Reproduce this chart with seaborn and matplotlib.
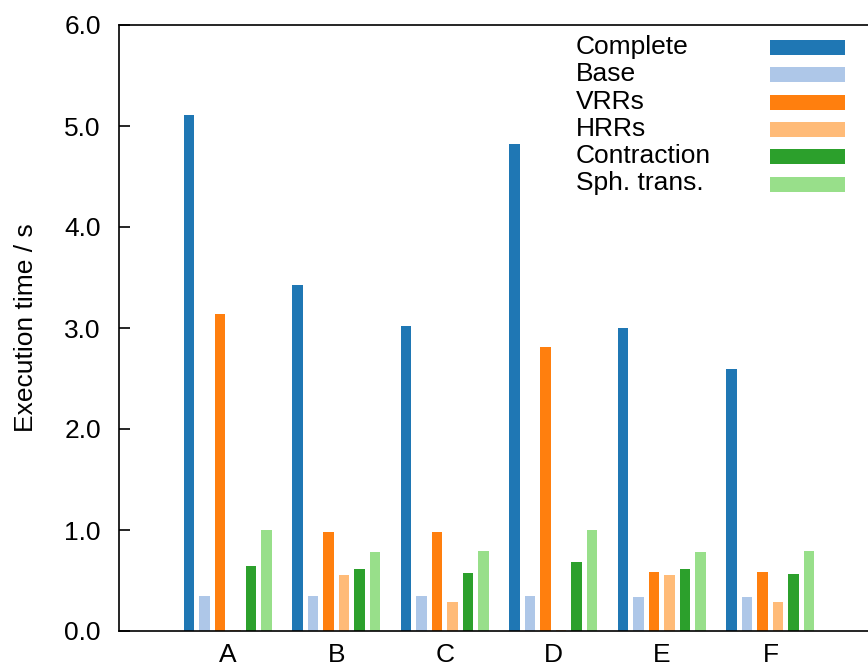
import matplotlib
matplotlib.use("Agg")
import matplotlib.pyplot as plt
from matplotlib.patches import Rectangle
import seaborn as sns
import pandas as pd

categories = ["A", "B", "C", "D", "E", "F"]
series_names = ["Complete", "Base", "VRRs", "HRRs", "Contraction", "Sph. trans."]
complete = [5.11, 3.43, 3.02, 4.82, 3.00, 2.59]
base = [0.35, 0.35, 0.35, 0.35, 0.34, 0.34]
vrrs = [3.14, 0.98, 0.98, 2.81, 0.58, 0.58]
hrrs = [0.01, 0.55, 0.29, 0.01, 0.55, 0.29]
contraction = [0.645, 0.61, 0.57, 0.68, 0.61, 0.565]
sph_trans = [1.00, 0.78, 0.79, 1.00, 0.78, 0.795]
colors = ["#1f77b4", "#aec7e8", "#ff7f0e", "#ffbb78", "#2ca02c", "#98df8a"]
yticks = [0.0, 1.0, 2.0, 3.0, 4.0, 5.0, 6.0]

series_values = [complete, base, vrrs, hrrs, contraction, sph_trans]
rows = []
for name, vals in zip(series_names, series_values):
    for cat, v in zip(categories, vals):
        rows.append({"category": cat, "series": name, "value": v})
df = pd.DataFrame(rows)

sns.set_style("white")
plt.rcParams["font.family"] = ["Liberation Sans", "DejaVu Sans"]
plt.rcParams["text.color"] = "black"
plt.rcParams["axes.labelcolor"] = "black"
FS = 19
FSPX = FS * 100 / 72

fig = plt.figure(figsize=(8.68, 6.66), dpi=100)
ax = fig.add_axes([119 / 868, 35 / 666, 760 / 868, 606 / 666])

sns.barplot(data=df, x="category", y="value", hue="series", order=categories,
            hue_order=series_names, palette=colors, saturation=1, width=0.857,
            gap=0.32, legend=False, ax=ax, errorbar=None, linewidth=0)

ax.set_xlim(-1.0, 6.0)
ax.set_ylim(0, 6.0)
ax.set_yticks(yticks)
ax.set_yticklabels([f"{t:.1f}" for t in yticks])
ax.set_xlabel("")
ax.set_ylabel("Execution time / s", fontsize=FS, labelpad=19, color="black")
ax.tick_params(axis="y", direction="in", length=8, width=1.2, pad=13,
               labelsize=FS, left=True, colors="black")
ax.tick_params(axis="x", length=0, pad=8.5, labelsize=FS, colors="black")
for s in ["left", "bottom", "top"]:
    ax.spines[s].set_color("black")
    ax.spines[s].set_linewidth(1.2)
ax.spines["right"].set_visible(False)

# legend: text column and swatch column
handles = list(ax.containers)
dummy = [Rectangle((0, 0), 0, 0, alpha=0) for _ in series_names]
leg1 = fig.legend(dummy, series_names, loc="upper left",
                  bbox_to_anchor=(576 / 868, 1 - 35 / 666),
                  bbox_transform=fig.transFigure, frameon=False, fontsize=FS,
                  handlelength=0, handletextpad=0, borderpad=0,
                  borderaxespad=0, labelspacing=0.125, labelcolor="black")
leg2 = fig.legend(handles, [" "] * len(series_names), loc="upper left",
                  bbox_to_anchor=(770 / 868, 1 - 38 / 666),
                  bbox_transform=fig.transFigure, frameon=False, fontsize=FS,
                  handlelength=75 / FSPX, handleheight=0.5,
                  handletextpad=0, borderpad=0, borderaxespad=0,
                  labelspacing=0.125)

fig.savefig("out.png", dpi=100)
